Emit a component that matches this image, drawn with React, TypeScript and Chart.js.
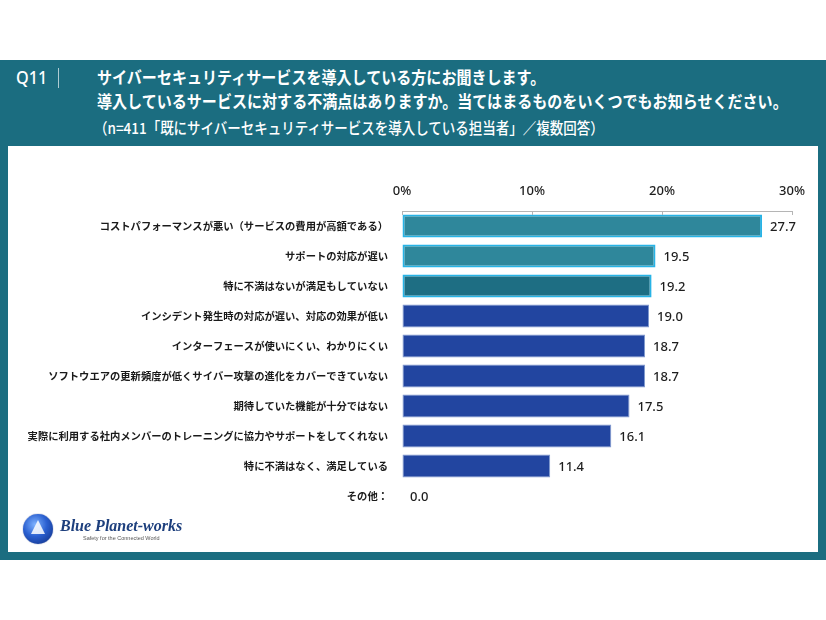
import React, { useEffect, useRef } from "react";
import { Chart, registerables } from "chart.js";

Chart.register(...registerables);

const categories = [
  "コストパフォーマンスが悪い（サービスの費用が高額である）",
  "サポートの対応が遅い",
  "特に不満はないが満足もしていない",
  "インシデント発生時の対応が遅い、対応の効果が低い",
  "インターフェースが使いにくい、わかりにくい",
  "ソフトウエアの更新頻度が低くサイバー攻撃の進化をカバーできていない",
  "期待していた機能が十分ではない",
  "実際に利用する社内メンバーのトレーニングに協力やサポートをしてくれない",
  "特に不満はなく、満足している",
  "その他：",
];
const values = [27.7, 19.5, 19.2, 19.0, 18.7, 18.7, 17.5, 16.1, 11.4, 0.0];
const fillColors = [
  "#2f879b", "#2f879b", "#1e6e83",
  "#2245a0", "#2245a0", "#2245a0", "#2245a0", "#2245a0", "#2245a0", "#2245a0",
];
const borderColors = [
  "#27b3e6", "#27b3e6", "#27b3e6",
  "#7f99cf", "#7f99cf", "#7f99cf", "#7f99cf", "#7f99cf", "#7f99cf", "#7f99cf",
];
const borderWidths = [2, 2, 2, 1, 1, 1, 1, 1, 1, 1];
const xMin = 0;
const xMax = 30;
const xStep = 10;

const titleLine1 = "サイバーセキュリティサービスを導入している方にお聞きします。";
const titleLine2 = "導入しているサービスに対する不満点はありますか。当てはまるものをいくつでもお知らせください。";
const titleLine3 = "（n=411「既にサイバーセキュリティサービスを導入している担当者」／複数回答）";

const TEAL = "#1b6d80";

const valueLabelPlugin = {
  id: "valueLabels",
  afterDatasetsDraw(chart: any) {
    const ctx = chart.ctx;
    const meta = chart.getDatasetMeta(0);
    ctx.save();
    ctx.font = "500 13px 'Noto Sans', sans-serif";
    ctx.fillStyle = "#1e1e1e";
    ctx.textAlign = "left";
    ctx.textBaseline = "middle";
    meta.data.forEach((el: any, i: number) => {
      ctx.fillText(values[i].toFixed(1), el.x + 8, el.y + 1);
    });
    ctx.restore();
  },
};

const axisTickPlugin = {
  id: "axisTicksDown",
  afterDraw(chart: any) {
    const ctx = chart.ctx;
    const sx = chart.scales.x;
    const top = chart.chartArea.top;
    ctx.save();
    ctx.strokeStyle = "#b5b5b5";
    ctx.lineWidth = 1;
    sx.ticks.forEach((t: any) => {
      const x = Math.round(sx.getPixelForValue(t.value)) + 0.5;
      ctx.beginPath();
      ctx.moveTo(x, top);
      ctx.lineTo(x, top + 4);
      ctx.stroke();
    });
    ctx.restore();
  },
};

function BarChart() {
  const ref = useRef<HTMLCanvasElement | null>(null);
  useEffect(() => {
    if (!ref.current) return;
    const chart = new Chart(ref.current, {
      type: "bar",
      data: {
        labels: categories,
        datasets: [
          {
            data: values,
            backgroundColor: fillColors,
            borderColor: borderColors,
            borderWidth: borderWidths,
            borderSkipped: false,
            categoryPercentage: 0.76,
            barPercentage: 1,
          },
        ],
      },
      options: {
        indexAxis: "y",
        responsive: false,
        animation: false,
        devicePixelRatio: 1,
        layout: { padding: { top: 171, right: 34, bottom: 109, left: 0 } },
        plugins: {
          legend: { display: false },
          tooltip: { enabled: false },
        },
        scales: {
          x: {
            position: "top",
            min: xMin,
            max: xMax,
            grid: { display: true, drawOnChartArea: false, drawTicks: false },
            border: { display: true, color: "#b5b5b5", width: 1 },
            ticks: {
              stepSize: xStep,
              padding: 12,
              color: "#1e1e1e",
              font: { family: "'Noto Sans', sans-serif", size: 13, weight: "500" },
              callback: (v: any) => v + "%",
            },
            afterFit: (s: any) => {
              s.height = 40;
            },
          },
          y: {
            grid: { display: false, drawTicks: false },
            border: { display: false },
            ticks: {
              padding: 14,
              color: "#1a1a1a",
              font: { family: "'Noto Sans CJK JP', sans-serif", size: 10.3, weight: "bold" },
            },
            afterFit: (s: any) => {
              s.width = 402;
            },
          },
        },
      },
      plugins: [valueLabelPlugin, axisTickPlugin],
    });
    return () => chart.destroy();
  }, []);
  return (
    <canvas
      ref={ref}
      width={826}
      height={620}
      style={{ position: "absolute", left: 0, top: 0, width: 826, height: 620 }}
    />
  );
}

export default function App() {
  const titleStyle: React.CSSProperties = {
    position: "absolute",
    color: "#ffffff",
    fontFamily: "'Noto Sans CJK JP', sans-serif",
    whiteSpace: "nowrap",
    transformOrigin: "left center",
    lineHeight: "20px",
  };
  return (
    <div
      style={{
        position: "absolute",
        left: 0,
        top: 0,
        width: 826,
        height: 620,
        background: "#ffffff",
        overflow: "hidden",
      }}
    >
      <div style={{ position: "absolute", left: 0, top: 60, width: 826, height: 500, background: TEAL }} />
      <div style={{ position: "absolute", left: 8, top: 146, width: 810, height: 406, background: "#ffffff" }} />
      <div
        style={{
          ...titleStyle,
          left: 16,
          top: 67,
          fontFamily: "'Noto Sans', sans-serif",
          fontSize: 18,
          fontWeight: 500,
          transform: "scaleX(0.9)",
        }}
      >
        Q11
      </div>
      <div style={{ position: "absolute", left: 58, top: 68, width: 1, height: 20, background: "rgba(255,255,255,0.65)" }} />
      <div style={{ ...titleStyle, left: 97, top: 67, fontSize: 17, fontWeight: 700, transform: "scaleX(0.885)" }}>
        {titleLine1}
      </div>
      <div style={{ ...titleStyle, left: 97, top: 91, fontSize: 17, fontWeight: 700, transform: "scaleX(0.885)" }}>
        {titleLine2}
      </div>
      <div style={{ ...titleStyle, left: 94, top: 117, fontSize: 15.5, fontWeight: 500, transform: "scaleX(0.87)" }}>
        {titleLine3}
      </div>
      <BarChart />
      <div
        style={{
          position: "absolute",
          left: 23,
          top: 514,
          width: 30,
          height: 30,
          borderRadius: "50%",
          background: "radial-gradient(circle at 40% 35%, #7fb3ff 0%, #2a5fd0 45%, #0d2a7a 100%)",
          boxShadow: "0 0 1px #0d2a7a",
        }}
      >
        <div
          style={{
            position: "absolute",
            left: 8,
            top: 6,
            width: 0,
            height: 0,
            borderLeft: "7px solid transparent",
            borderRight: "7px solid transparent",
            borderBottom: "14px solid rgba(255,255,255,0.85)",
          }}
        />
      </div>
      <div
        style={{
          position: "absolute",
          left: 60,
          top: 517,
          fontFamily: "'Liberation Serif', serif",
          fontStyle: "italic",
          fontWeight: 700,
          fontSize: 16,
          color: "#1d3f7d",
          whiteSpace: "nowrap",
          lineHeight: "18px",
        }}
      >
        Blue Planet-works
      </div>
      <div
        style={{
          position: "absolute",
          left: 83,
          top: 535,
          fontFamily: "'Liberation Sans', sans-serif",
          fontSize: 5.5,
          color: "#555555",
          whiteSpace: "nowrap",
          lineHeight: "7px",
        }}
      >
        Safety for the Connected World
      </div>
    </div>
  );
}
